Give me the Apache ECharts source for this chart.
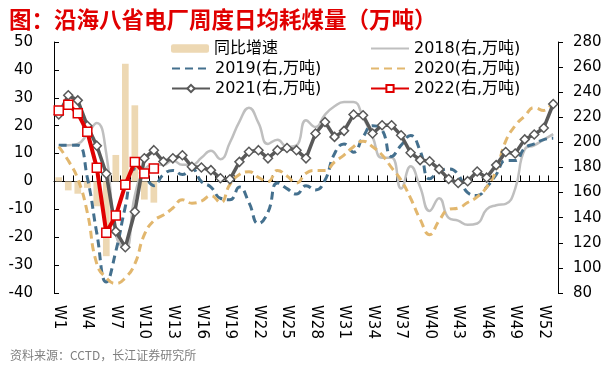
<!DOCTYPE html>
<html><head><meta charset="utf-8">
<script src="https://cdn.jsdelivr.net/npm/echarts@6/dist/echarts.min.js"></script>
<style>html,body{margin:0;padding:0;background:#fff}#c{width:609px;height:365px}</style>
</head><body><div id="c"></div>
<script>
const weeks = ['W1','W2','W3','W4','W5','W6','W7','W8','W9','W10','W11','W12','W13','W14','W15','W16','W17','W18','W19','W20','W21','W22','W23','W24','W25','W26','W27','W28','W29','W30','W31','W32','W33','W34','W35','W36','W37','W38','W39','W40','W41','W42','W43','W44','W45','W46','W47','W48','W49','W50','W51','W52','W53'];
const yoyGrowth = [1.5,-3.2,-4.4,-2.3,-8.9,-26.8,9.5,42.2,27.3,-6.5,-7.6];
const s2018 = [197.7,197.7,198.8,206.6,215.5,191.0,126.5,115.4,157.7,177.7,182.1,182.1,185.5,182.1,182.1,187.7,193.3,186.6,199.9,216.6,227.7,215.5,198.8,202.2,196.6,197.7,217.7,212.2,222.2,228.8,232.2,232.2,220.0,204.4,187.7,187.7,163.2,181.0,164.4,145.4,155.5,139.9,137.7,134.3,135.4,146.6,149.9,151.0,163.2,194.4,197.7,202.2,206.6];
const s2019 = [197.7,197.7,197.7,172.1,127.7,88.7,113.2,148.8,178.8,173.2,165.5,174.4,177.7,174.4,178.8,168.8,164.4,155.5,154.3,164.4,152.1,135.4,144.3,167.7,163.2,158.8,165.5,162.1,169.9,191.0,198.8,192.2,204.4,213.3,210.0,188.8,197.7,205.5,193.3,171.0,176.6,178.8,174.4,159.9,157.7,164.4,174.4,185.5,185.5,195.5,198.8,202.2,203.3];
const s2020 = [196.6,185.5,171.0,144.3,103.2,92.1,87.6,92.1,103.2,126.5,137.7,142.1,147.7,154.3,151.6,153.2,157.7,152.1,166.6,174.4,176.6,172.1,168.8,177.7,173.2,167.7,175.5,177.7,177.7,184.4,189.9,196.6,201.0,196.6,189.9,179.9,169.9,155.5,138.8,126.5,137.7,146.6,147.7,152.1,156.6,164.4,177.7,201.0,213.3,221.1,227.7,225.5,233.3];
const s2021 = [222.2,237.5,233.5,213.3,197.4,175.0,129.1,116.5,144.8,187.3,193.8,184.7,187.3,189.8,180.6,180.0,177.9,171.4,170.6,184.5,192.5,193.8,187.3,193.8,195.5,193.8,187.3,207.1,216.3,204.4,209.2,222.2,221.6,207.1,213.7,213.7,205.7,191.8,185.9,185.0,178.7,170.8,167.7,169.1,176.8,171.9,181.9,192.3,191.2,202.4,206.3,211.5,230.6];
const s2022 = [225.5,230.0,223.3,208.4,179.9,128.1,141.7,166.2,184.4,175.3,179.3];

const FONT = "'DejaVu Sans','Noto Sans CJK SC',sans-serif";
const names = ['同比增速','2018(右,万吨)','2019(右,万吨)','2020(右,万吨)','2021(右,万吨)','2022(右,万吨)'];
const legendText = {fontSize:16, color:'#000', fontFamily:FONT, lineHeight:20};

const chart = echarts.init(document.getElementById('c'), null, {renderer:'canvas'});
chart.setOption({
  animation:false,
  backgroundColor:'#fff',
  title:[
    {text:'图：沿海八省电厂周度日均耗煤量（万吨）', left:4, top:3,
     textStyle:{fontSize:22.5, fontWeight:'bold', color:'#E00000', fontFamily:"'Noto Sans CJK SC',sans-serif"}},
    {text:'资料来源：CCTD，长江证券研究所', left:5, top:344,
     textStyle:{fontSize:12, fontWeight:'normal', color:'#7F7F7F', fontFamily:"'Noto Sans CJK SC',sans-serif"}}
  ],
  legend:[
    {data:[names[0]], left:166, top:33.5, itemWidth:38, itemHeight:8.5, itemGap:0, itemTextGap:5, textStyle:legendText},
    {data:[{name:names[2], itemStyle:{opacity:0}}, names[4]], orient:'vertical', left:166, top:53.5, itemWidth:38, itemHeight:9, itemGap:0, itemTextGap:5, textStyle:legendText},
    {data:[{name:names[1], itemStyle:{opacity:0}}, {name:names[3], itemStyle:{opacity:0}}, names[5]], orient:'vertical', left:365, top:33.5, itemWidth:38, itemHeight:9, itemGap:0, itemTextGap:5, textStyle:legendText}
  ],
  grid:{left:54, right:51, top:42, bottom:72, containLabel:false},
  xAxis:[
    {type:'category', data:weeks, boundaryGap:true, position:'bottom',
     axisLine:{show:false, onZero:false}, axisTick:{show:false},
     axisLabel:{interval:2, rotate:-90, margin:12, fontSize:15, color:'#000', fontFamily:FONT}},
    {type:'category', data:weeks, boundaryGap:true, position:'bottom',
     axisLine:{show:true, onZero:true, onZeroAxisIndex:0, lineStyle:{color:'#000', width:1}},
     axisTick:{show:true, inside:true, length:6, interval:0, lineStyle:{color:'#000'}},
     axisLabel:{show:false}}
  ],
  yAxis:[
    {type:'value', min:-40, max:50, interval:10, position:'left',
     axisLine:{show:true, lineStyle:{color:'#000'}}, axisTick:{show:true, inside:true, length:5, lineStyle:{color:'#000'}},
     splitLine:{show:false}, axisLabel:{margin:21, fontSize:15, color:'#000', fontFamily:FONT}},
    {type:'value', min:80, max:280, interval:20, position:'right',
     axisLine:{show:true, lineStyle:{color:'#000'}}, axisTick:{show:true, inside:false, length:5, lineStyle:{color:'#000'}},
     splitLine:{show:false}, axisLabel:{margin:15, fontSize:15, color:'#000', fontFamily:FONT}}
  ],
  series:[
    {name:names[0], type:'bar', xAxisIndex:0, yAxisIndex:0, data:yoyGrowth, barWidth:6.7,
     itemStyle:{color:'#EDD8B3'}, z:1},
    {name:names[1], type:'line', xAxisIndex:0, yAxisIndex:1, data:s2018, smooth:true, showSymbol:false, symbol:'circle',
     lineStyle:{color:'#BFBFBF', width:2.5}, itemStyle:{color:'#BFBFBF'}, z:2},
    {name:names[2], type:'line', xAxisIndex:0, yAxisIndex:1, data:s2019, smooth:true, showSymbol:false, symbol:'circle',
     lineStyle:{color:'#44708E', width:3, type:[8,5]}, itemStyle:{color:'#44708E'}, z:3},
    {name:names[3], type:'line', xAxisIndex:0, yAxisIndex:1, data:s2020, smooth:true, showSymbol:false, symbol:'circle',
     lineStyle:{color:'#E2B76E', width:3, type:[8,5]}, itemStyle:{color:'#E2B76E'}, z:3},
    {name:names[4], type:'line', xAxisIndex:0, yAxisIndex:1, data:s2021, smooth:false, symbol:'diamond', symbolSize:9,
     showSymbol:true, showAllSymbol:true,
     lineStyle:{color:'#595959', width:3.5}, itemStyle:{color:'#fff', borderColor:'#595959', borderWidth:1.5}, z:4},
    {name:names[5], type:'line', xAxisIndex:0, yAxisIndex:1, data:s2022, smooth:false, symbol:'rect', symbolSize:9,
     showSymbol:true, showAllSymbol:true,
     lineStyle:{color:'#E00000', width:4}, itemStyle:{color:'#fff', borderColor:'#E00000', borderWidth:1.5}, z:5}
  ]
});
</script>
</body></html>
